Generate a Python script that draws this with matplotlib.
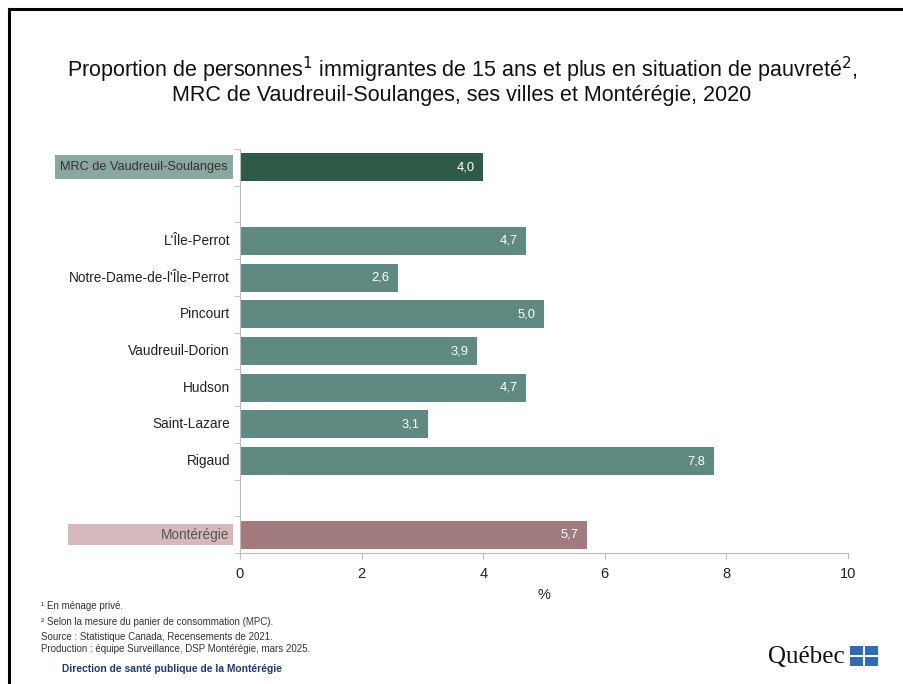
import matplotlib
matplotlib.use("Agg")
import matplotlib.pyplot as plt
from matplotlib.lines import Line2D
from matplotlib.patches import Rectangle
from matplotlib.transforms import blended_transform_factory

plt.rcParams['font.family'] = ['Liberation Sans', 'DejaVu Sans']

categories = ["MRC de Vaudreuil-Soulanges", "", "L'Île-Perrot", "Notre-Dame-de-l'Île-Perrot",
              "Pincourt", "Vaudreuil-Dorion", "Hudson", "Saint-Lazare", "Rigaud", "", "Montérégie"]
values = [4.0, None, 4.7, 2.6, 5.0, 3.9, 4.7, 3.1, 7.8, None, 5.7]
xticks = [0, 2, 4, 6, 8, 10]

c_mrc = "#2e5a48"
c_city = "#5f8a81"
c_mont = "#a27b80"
colors = [c_mrc, None] + [c_city] * 7 + [None, c_mont]

W, H = 904, 684
fig = plt.figure(figsize=(W / 100, H / 100), dpi=100)

def fx(px):
    return px / W

def fy(py):
    return 1 - py / H

ax_left, ax_right, ax_top, ax_bot = 240, 848, 149, 553
ax = fig.add_axes([fx(ax_left), fy(ax_bot), fx(ax_right) - fx(ax_left), fy(ax_top) - fy(ax_bot)])
axw = ax_right - ax_left

n = len(categories)
for i, (v, c) in enumerate(zip(values, colors)):
    if v is None:
        continue
    ax.barh(i, v, height=0.76, color=c)
    ax.text(v - 0.14, i, f"{v:.1f}".replace('.', ','), ha='right', va='center',
            color='white', fontsize=9.3)

ax.set_ylim(n - 0.5, -0.5)
ax.set_xlim(0, 10)
ax.set_xticks(xticks)
ax.set_xticklabels([str(t) for t in xticks], fontsize=10.5, color='#222222')
ax.tick_params(axis='x', length=4, color='#bbbbbb', pad=6)
ax.set_yticks([])
ax.set_yticks([i - 0.5 for i in range(n + 1)], minor=True)
ax.tick_params(axis='y', which='minor', length=4, color='#bbbbbb')
for s in ['top', 'right']:
    ax.spines[s].set_visible(False)
for s in ['left', 'bottom']:
    ax.spines[s].set_color('#bbbbbb')
ax.set_xlabel('%', fontsize=10.5, labelpad=5, color='#222222')

bt = blended_transform_factory(ax.transAxes, ax.transData)

def axfrac(px):
    return (px - ax_left) / axw

# category labels
for i, lab in enumerate(categories):
    if not lab:
        continue
    if i == 0:
        ax.add_patch(Rectangle((axfrac(55), i - 0.33), axfrac(233) - axfrac(55), 0.66,
                               transform=bt, fc='#8aa89f', ec='none', clip_on=False, zorder=1))
        ax.text(axfrac(144), i, lab, transform=bt, ha='center', va='center',
                fontsize=9.2, color='#333333', zorder=3)
    elif i == n - 1:
        ax.add_patch(Rectangle((axfrac(68), i - 0.28), axfrac(233) - axfrac(68), 0.56,
                               transform=bt, fc='#d4b8bc', ec='none', clip_on=False, zorder=1))
        ax.text(axfrac(229), i, lab, transform=bt, ha='right', va='center',
                fontsize=9.8, color='#555555', zorder=3)
    else:
        ax.text(axfrac(230), i, lab, transform=bt, ha='right', va='center',
                fontsize=9.8, color='#222222')

# title
fig.text(fx(462), fy(70), "Proportion de personnes$^{1}$ immigrantes de 15 ans et plus en situation de pauvreté$^{2}$,",
         ha='center', va='center', fontsize=15.5, color='#111111')
fig.text(fx(462), fy(96), "MRC de Vaudreuil-Soulanges, ses villes et Montérégie, 2020",
         ha='center', va='center', fontsize=15.5, color='#111111')

# footnotes
foot = [("¹ En ménage privé.", 606), ("² Selon la mesure du panier de consommation (MPC).", 622),
        ("Source : Statistique Canada, Recensements de 2021.", 637),
        ("Production : équipe Surveillance, DSP Montérégie, mars 2025.", 649)]
for t, y in foot:
    fig.text(fx(41), fy(y), t, ha='left', va='center', fontsize=7, color='#333333')
fig.text(fx(62), fy(669), "Direction de santé publique de la Montérégie", ha='left', va='center',
         fontsize=7.4, color='#1f3a6e', fontweight='bold')

# Québec logo text
fig.text(fx(845), fy(657), "Québec", ha='right', va='center', fontsize=18,
         family=['Liberation Serif', 'DejaVu Serif'], color='#111111')
for (x0, y0) in [(850, 646), (865, 646), (850, 657), (865, 657)]:
    fig.patches.append(Rectangle((fx(x0), fy(y0 + 9)), fx(13), 9 / H, transform=fig.transFigure,
                                 fc='#2e6db4', ec='none'))

# border (left + top)
fig.add_artist(Line2D([fx(9), fx(9)], [fy(9), 0], transform=fig.transFigure, color='black', lw=2.2))
fig.add_artist(Line2D([fx(9), 1], [fy(9), fy(9)], transform=fig.transFigure, color='black', lw=2.2))

fig.savefig("out.png", dpi=100, facecolor='white')
